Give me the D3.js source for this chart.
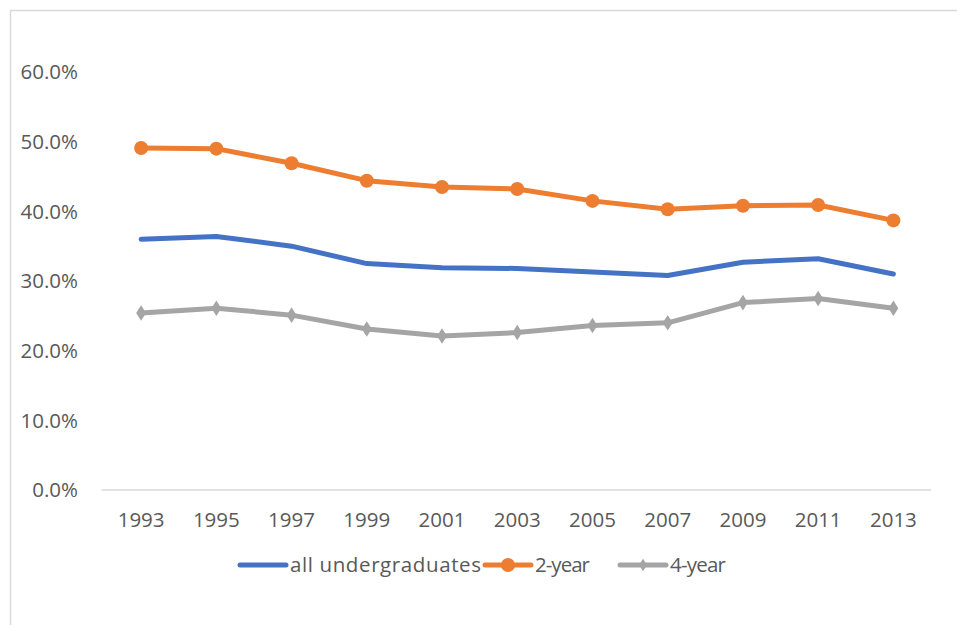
<!DOCTYPE html>
<html>
<head>
<meta charset="utf-8">
<script src="https://cdn.jsdelivr.net/npm/d3@7"></script>
<style>
  body { margin: 0; background: #fff; }
  svg { display: block; font-family: "Open Sans", "Noto Sans", sans-serif; }
</style>
</head>
<body>
<svg id="chart" width="957" height="625"></svg>
<script>
// Survey years on the category axis
const years = ["1993","1995","1997","1999","2001","2003","2005","2007","2009","2011","2013"];
// Shares (%) per sector
const allUndergrad = [36.0, 36.4, 35.0, 32.5, 31.9, 31.8, 31.3, 30.8, 32.7, 33.2, 31.0];
const twoYear      = [49.1, 49.0, 46.9, 44.4, 43.5, 43.2, 41.5, 40.3, 40.8, 40.9, 38.7];
const fourYear     = [25.4, 26.1, 25.1, 23.1, 22.1, 22.6, 23.6, 24.0, 26.9, 27.5, 26.1];
const yTicks = [0, 10, 20, 30, 40, 50, 60];

const series = [
  { name: "all undergraduates", values: allUndergrad, color: "#4472C4", marker: "none" },
  { name: "2-year", values: twoYear, color: "#ED7D31", marker: "circle" },
  { name: "4-year", values: fourYear, color: "#A5A5A5", marker: "diamond" }
];

const svg = d3.select("#chart");
const textColor = "#595959";
const fontSize = 20.5;

// outer chart frame
svg.append("rect")
  .attr("x", 10.5).attr("y", 10.5)
  .attr("width", 1000).attr("height", 1000)
  .attr("fill", "none").attr("stroke", "#d9d9d9").attr("stroke-width", 1.5);

const plot = { left: 103.5, right: 931, top: 72, bottom: 490 };

const x = d3.scalePoint().domain(years)
  .range([plot.left, plot.right]).padding(0.5);
const y = d3.scaleLinear().domain([0, 60]).range([plot.bottom, plot.top]);

// y tick labels
svg.append("g").selectAll("text").data(yTicks).join("text")
  .attr("x", 78).attr("y", d => y(d))
  .attr("dy", "0.35em")
  .attr("text-anchor", "end")
  .attr("fill", textColor)
  .attr("font-size", fontSize)
  .text(d => d.toFixed(1) + "%");

// category axis line
svg.append("line")
  .attr("x1", plot.left - 2).attr("x2", plot.right)
  .attr("y1", y(0)).attr("y2", y(0))
  .attr("stroke", "#d9d9d9").attr("stroke-width", 1.5);

// x tick labels
svg.append("g").selectAll("text").data(years).join("text")
  .attr("x", d => x(d)).attr("y", 527)
  .attr("text-anchor", "middle")
  .attr("fill", textColor)
  .attr("font-size", fontSize)
  .text(d => d);

const line = d3.line().x((d, i) => x(years[i])).y(d => y(d));

function drawMarker(g, type, color, cx, cy, scale = 1) {
  if (type === "circle") {
    g.append("circle").attr("cx", cx).attr("cy", cy).attr("r", 7 * scale).attr("fill", color);
  } else if (type === "diamond") {
    g.append("path")
      .attr("d", d3.symbol().type(d3.symbolDiamond).size(70 * scale * scale)())
      .attr("transform", `translate(${cx},${cy}) scale(1.1,1)`)
      .attr("fill", color);
  }
}

series.forEach(s => {
  const g = svg.append("g");
  g.append("path")
    .datum(s.values)
    .attr("d", line)
    .attr("fill", "none")
    .attr("stroke", s.color)
    .attr("stroke-width", 5)
    .attr("stroke-linejoin", "round")
    .attr("stroke-linecap", "round");
  s.values.forEach((v, i) => drawMarker(g, s.marker, s.color, x(years[i]), y(v)));
});

// legend
const legendItems = [
  { s: series[0], x0: 240, x1: 286, tx: 290, tw: 191, ms: 1 },
  { s: series[1], x0: 485, x1: 531, tx: 535, tw: 55, ms: 1 },
  { s: series[2], x0: 620, x1: 666, tx: 670, tw: 56, ms: 0.8 }
];
const ly = 565;
legendItems.forEach(it => {
  const g = svg.append("g");
  g.append("line")
    .attr("x1", it.x0).attr("x2", it.x1).attr("y1", ly).attr("y2", ly)
    .attr("stroke", it.s.color).attr("stroke-width", 5).attr("stroke-linecap", "round");
  drawMarker(g, it.s.marker, it.s.color, (it.x0 + it.x1) / 2, ly, it.ms);
  g.append("text")
    .attr("x", it.tx).attr("y", ly).attr("dy", "0.35em")
    .attr("fill", textColor).attr("font-size", fontSize)
    .attr("textLength", it.tw).attr("lengthAdjust", "spacing")
    .text(it.s.name);
});
</script>
</body>
</html>
